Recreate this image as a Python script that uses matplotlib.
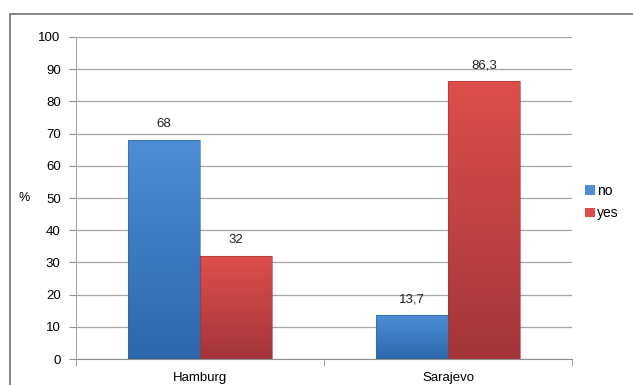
import matplotlib.pyplot as plt
import numpy as np
from matplotlib.patches import Rectangle
from matplotlib.colors import LinearSegmentedColormap

cities = ["Hamburg", "Sarajevo"]
answers = ["no", "yes"]
no_vals = [68, 13.7]
yes_vals = [32, 86.3]
value_labels = [["68", "13,7"], ["32", "86,3"]]

plt.rcParams["font.family"] = ["Liberation Sans", "DejaVu Sans"]

fig = plt.figure(figsize=(6.33, 3.85), dpi=100)
ax = fig.add_axes([0.12, 0.0675, 0.7836, 0.8364])

# outer chart frame (left and top border visible)
fig.patches.append(Rectangle((10 / 633, -0.1), 1.2, 1 - 14 / 385 + 0.1,
                             transform=fig.transFigure, fill=False,
                             edgecolor="#707070", linewidth=1.2))

x = np.arange(len(cities))
width = 0.29
colors = [("#4d8ed6", "#2c68aa"), ("#de4f4b", "#a4353a")]

for i, (vals, name) in enumerate(zip([no_vals, yes_vals], answers)):
    offs = (i - 0.5) * width
    bars = ax.bar(x + offs, vals, width, color=colors[i][0],
                  edgecolor="none", zorder=3, label=name)
    cmap = LinearSegmentedColormap.from_list("g", [colors[i][1], colors[i][0]])
    for b, lab in zip(bars, value_labels[i]):
        bx, bw, bh = b.get_x(), b.get_width(), b.get_height()
        grad = np.linspace(0, 1, 100).reshape(-1, 1)
        im = ax.imshow(grad, cmap=cmap, extent=[bx, bx + bw, 0, bh],
                       origin="lower", aspect="auto", zorder=3.5)
        im.set_clip_path(b)
        # darker edge frame
        ax.add_patch(Rectangle((bx, 0), bw, bh, fill=False,
                               edgecolor=colors[i][1], linewidth=0.8,
                               alpha=0.6, zorder=4))
        ax.text(bx + bw / 2, bh + 3, lab, ha="center", va="bottom",
                fontsize=9.5, color="#222222", zorder=5)

ax.set_xlim(-0.5, 1.5)
ax.set_ylim(0, 100)
ax.set_yticks(range(0, 101, 10))
ax.set_xticks(x)
ax.set_xticklabels(cities)
ax.set_xticks([-0.5, 0.5, 1.5], minor=True)
ax.tick_params(axis="x", which="major", length=0, pad=9, labelsize=9.5)
ax.tick_params(axis="x", which="minor", length=5, color="#909090", direction="out")
ax.tick_params(axis="y", length=5, color="#909090", labelsize=9.5, pad=6)
ax.grid(axis="y", color="#a6a6a6", linewidth=0.9, zorder=0)

for s in ["top", "right"]:
    ax.spines[s].set_visible(False)
ax.spines["left"].set_color("#a6a6a6")
ax.spines["bottom"].set_color("#909090")

ax.set_ylabel("%", rotation=0, fontsize=9, labelpad=10, va="center")

# legend
h, l = ax.get_legend_handles_labels()
leg = fig.legend(h, l, loc="center left", bbox_to_anchor=(0.905, 0.475),
                 frameon=False, fontsize=10, handlelength=0.7, handleheight=0.7,
                 handletextpad=0.15, labelspacing=0.6)

fig.savefig("out.png", dpi=100)
